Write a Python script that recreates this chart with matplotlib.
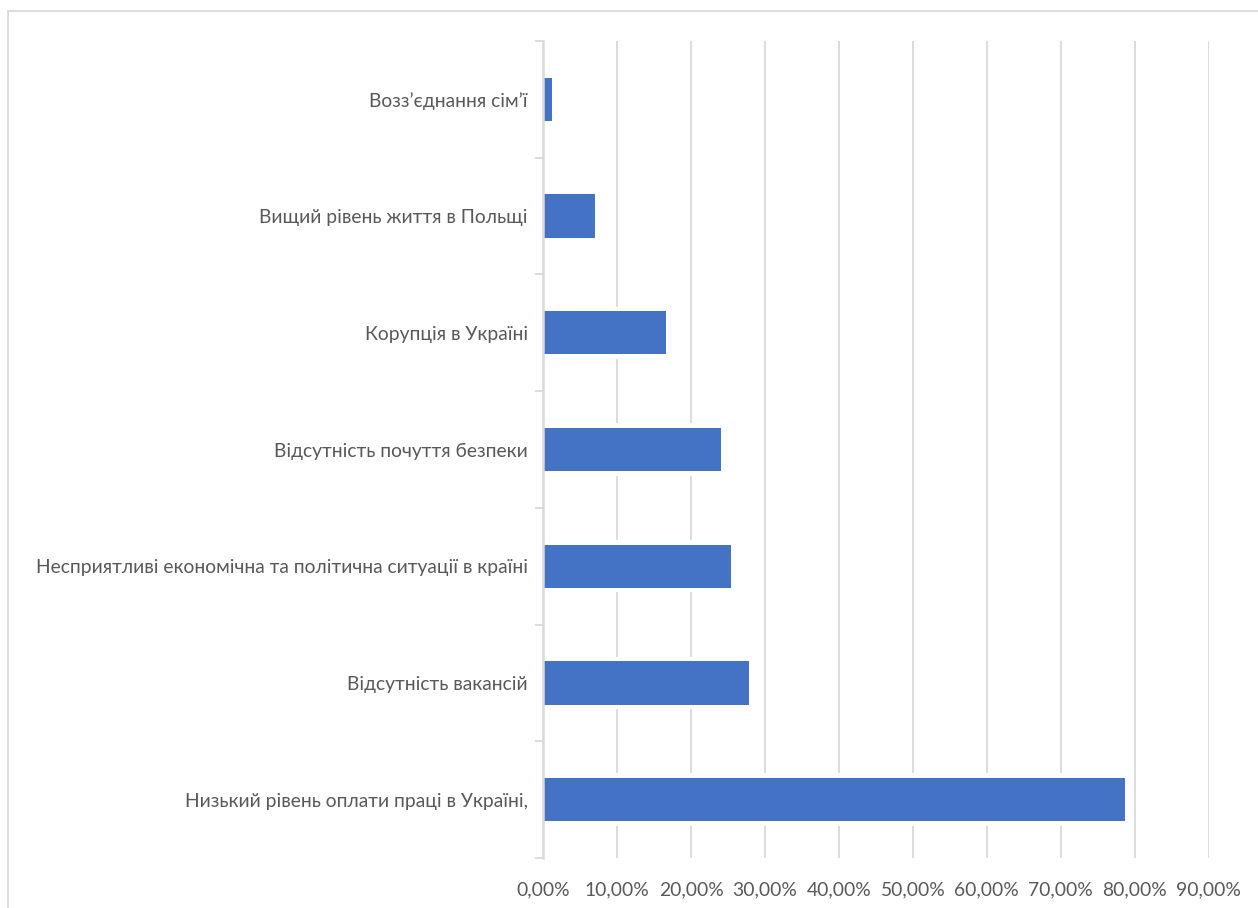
import matplotlib
matplotlib.use("Agg")
import matplotlib.pyplot as plt
from matplotlib.patches import Rectangle
from matplotlib.ticker import FixedLocator

plt.rcParams['font.family'] = ['Lato', 'DejaVu Sans']

# Reasons, listed from the bottom bar to the top bar
reasons = [
    "Низький рівень оплати праці в Україні,",
    "Відсутність вакансій",
    "Несприятливі економічна та політична ситуації в країні",
    "Відсутність почуття безпеки",
    "Корупція в Україні",
    "Вищий рівень життя в Польщі",
    "Возз’єднання сім’ї",
]
shares = [0.787, 0.278, 0.254, 0.241, 0.166, 0.070, 0.012]
x_ticks = [0.0, 0.1, 0.2, 0.3, 0.4, 0.5, 0.6, 0.7, 0.8, 0.9]

W, H = 1258, 908
fig = plt.figure(figsize=(W / 100, H / 100), dpi=100)
fig.patch.set_facecolor("white")

# chart-area frame
fig.patches.append(Rectangle((8 / W, -0.1), 1.2, 1 - 11 / H + 0.1,
                             transform=fig.transFigure, fill=False,
                             edgecolor="#d9d9d9", linewidth=1.3, zorder=0))

ax = fig.add_axes([543 / W, 1 - 858 / H, (1208.7 - 543) / W, (858 - 41) / H])
n = len(reasons)
pos = list(range(n))

bar_h = 0.37
ax.barh(pos, shares, height=bar_h + 0.08, color="white", zorder=2)
ax.barh(pos, shares, height=bar_h, color="#4472c4", zorder=3)

ax.set_xlim(0, 0.9)
ax.set_ylim(-0.5, n - 0.5)

ax.set_xticks(x_ticks)
ax.set_xticklabels([f"{v * 100:.2f}%".replace(".", ",") for v in x_ticks])
ax.tick_params(axis="x", length=0, pad=17, labelsize=13.9, labelcolor="#595959")
ax.grid(axis="x", color="#d9d9d9", linewidth=1.3, zorder=1)
ax.set_axisbelow(True)

# boundary ticks on the category axis, labels centred between them
ax.yaxis.set_major_locator(FixedLocator([i - 0.5 for i in range(n + 1)]))
ax.set_yticklabels([""] * (n + 1))
ax.yaxis.set_minor_locator(FixedLocator(pos))
ax.set_yticks(pos, minor=True)
ax.set_yticklabels(reasons, minor=True)
ax.tick_params(axis="y", which="major", length=6, width=1.3, color="#d9d9d9")
ax.tick_params(axis="y", which="minor", length=0, pad=11, labelsize=13.9,
               labelcolor="#595959")

for side in ("top", "right", "bottom"):
    ax.spines[side].set_visible(False)
ax.spines["left"].set_color("#d9d9d9")
ax.spines["left"].set_linewidth(1.8)
ax.spines["left"].set_zorder(4)

fig.savefig("out.png", dpi=100, facecolor="white")
